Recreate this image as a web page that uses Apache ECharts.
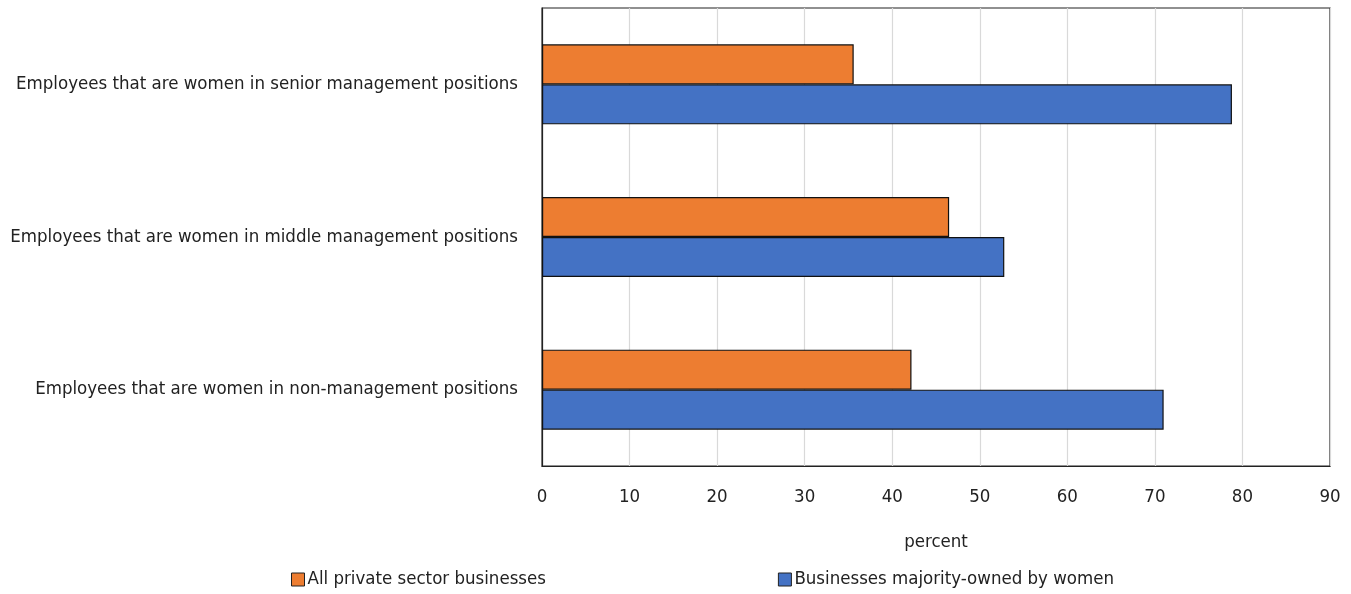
<!DOCTYPE html>
<html><head><meta charset="utf-8">
<script src="https://cdn.jsdelivr.net/npm/echarts@6/dist/echarts.min.js"></script>
<style>html,body{margin:0;padding:0;background:#fff}#c{width:1351px;height:594px}</style>
</head><body><div id="c"></div>
<script>
const categories = [
  "Employees that are women in senior management positions",
  "Employees that are women in middle management positions",
  "Employees that are women in non-management positions"
];
const allPrivate = [35.6, 46.5, 42.2];
const womenOwned = [78.8, 52.8, 71.0];
const seriesNames = ["All private sector businesses", "Businesses majority-owned by women"];
const xTicks = { min: 0, max: 90, interval: 10 };

const FONT = '"DejaVu Sans Condensed", "Liberation Sans Narrow", sans-serif';
const FS = 18.5;
const chart = echarts.init(document.getElementById('c'));
chart.setOption({
  animation: false,
  textStyle: { fontFamily: FONT },
  grid: { left: 542, right: 21, top: 8, bottom: 128, show: true, borderColor: '#222', borderWidth: 1.2, containLabel: false },
  legend: {
    bottom: 0, left: 286, itemGap: 232, itemWidth: 13, itemHeight: 13, icon: 'rect',
    textStyle: { fontSize: FS, color: '#222', fontFamily: FONT, padding: [0, 0, 0, -2] },
    itemStyle: { borderColor: '#222', borderWidth: 1 },
    data: seriesNames
  },
  xAxis: {
    type: 'value', min: xTicks.min, max: xTicks.max, interval: xTicks.interval,
    name: 'percent', nameLocation: 'middle', nameGap: 67,
    nameTextStyle: { fontSize: FS, color: '#222', fontFamily: FONT },
    axisLine: { show: true, lineStyle: { color: '#222', width: 1.2 } },
    axisTick: { show: false },
    axisLabel: { fontSize: FS, color: '#222', margin: 22, fontFamily: FONT },
    splitLine: { show: true, lineStyle: { color: '#d9d9d9', width: 1.2 } }
  },
  yAxis: {
    type: 'category', data: categories, inverse: true,
    axisLine: { show: true, lineStyle: { color: '#222', width: 1.2 } },
    axisTick: { show: false },
    axisLabel: { fontSize: FS, color: '#222', margin: 24, fontFamily: FONT }
  },
  series: [
    { name: seriesNames[0], type: 'bar', data: allPrivate, barWidth: 40, barGap: '0%',
      itemStyle: { color: '#ED7D31', borderColor: '#111', borderWidth: 1.2 } },
    { name: seriesNames[1], type: 'bar', data: womenOwned, barWidth: 40, barGap: '0%',
      itemStyle: { color: '#4472C4', borderColor: '#111', borderWidth: 1.2 } }
  ]
});
</script></body></html>
